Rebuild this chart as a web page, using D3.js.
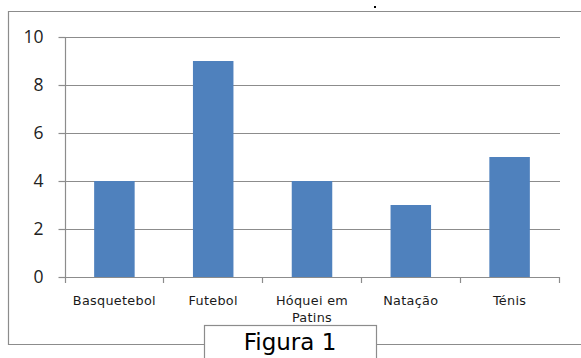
<!DOCTYPE html>
<html>
<head>
<meta charset="utf-8">
<script src="https://cdn.jsdelivr.net/npm/d3@7"></script>
<style>
  html, body { margin: 0; padding: 0; background: #fff; }
  svg { display: block; }
</style>
</head>
<body>
<svg id="chart" width="581" height="358"></svg>
<script>
// Number of students per sport
const categories = ["Basquetebol", "Futebol", "Hóquei em Patins", "Natação", "Ténis"];
const values = [4, 9, 4, 3, 5];
const yTicks = [0, 2, 4, 6, 8, 10];
const caption = "Figura 1";

const svg = d3.select("#chart");
const W = 581, H = 358;

// outer frame (open on the right, broken at the bottom by the caption box)
const frame = svg.append("g").attr("fill", "none").attr("stroke", "#8c8c8c").attr("stroke-width", 1.2);
frame.append("path").attr("d", `M${W},11.5 H8.5 V344.5 H204`);
frame.append("path").attr("d", `M377,344.5 H${W}`);

// small mark above the chart
svg.append("rect").attr("x", 374).attr("y", 6).attr("width", 2).attr("height", 2).attr("fill", "#000");

const plot = { left: 65, right: 559, top: 37, bottom: 277 };

const x = d3.scaleBand()
  .domain(categories)
  .range([plot.left, plot.right])
  .paddingInner(0.59)
  .paddingOuter(0.295);

const y = d3.scaleLinear().domain([0, 10]).range([plot.bottom, plot.top]);

// horizontal gridlines
svg.append("g")
  .selectAll("line")
  .data(yTicks.filter(d => d > 0))
  .join("line")
  .attr("x1", plot.left).attr("x2", plot.right + 1)
  .attr("y1", d => Math.round(y(d)) + 0.5).attr("y2", d => Math.round(y(d)) + 0.5)
  .attr("stroke", "#8c8c8c").attr("stroke-width", 1.2);

// bars
svg.append("g")
  .selectAll("rect")
  .data(categories.map((c, i) => ({ c, v: values[i] })))
  .join("rect")
  .attr("x", d => x(d.c))
  .attr("width", x.bandwidth())
  .attr("y", d => y(d.v))
  .attr("height", d => y(0) - y(d.v))
  .attr("fill", "#4f81bd");

// y axis
const yAxis = svg.append("g")
  .attr("transform", `translate(${plot.left + 0.5},0)`)
  .call(d3.axisLeft(y).tickValues(yTicks).tickSize(7).tickPadding(15).tickFormat(d3.format("d")));
yAxis.select(".domain").attr("stroke", "#8c8c8c").attr("stroke-width", 1.2).attr("d", `M0,${plot.top}V${plot.bottom + 0.5}`);
yAxis.selectAll(".tick line").attr("stroke", "#8c8c8c").attr("stroke-width", 1.2);
yAxis.selectAll(".tick").attr("transform", d => `translate(0,${Math.round(y(d)) + 0.5})`);
yAxis.selectAll("text")
  .attr("font-family", "'Open Sans', sans-serif")
  .attr("font-size", 17.5)
  .attr("fill", "#222");

// x axis: ticks at category boundaries
const bounds = d3.range(categories.length + 1).map(i => plot.left + i * x.step() - 0.5);
const xAxis = svg.append("g");
xAxis.append("line")
  .attr("x1", plot.left).attr("x2", plot.right + 1)
  .attr("y1", plot.bottom + 0.5).attr("y2", plot.bottom + 0.5)
  .attr("stroke", "#8c8c8c").attr("stroke-width", 1.2);
xAxis.selectAll("line.tk")
  .data(bounds)
  .join("line").attr("class", "tk")
  .attr("x1", d => Math.round(d) + 0.5).attr("x2", d => Math.round(d) + 0.5)
  .attr("y1", plot.bottom).attr("y2", plot.bottom + 6)
  .attr("stroke", "#8c8c8c").attr("stroke-width", 1.2);

// category labels (wrapped to the band width)
const labelLines = { "Hóquei em Patins": ["Hóquei em", "Patins"] };
const lbl = svg.append("g")
  .attr("font-family", "'DejaVu Sans', sans-serif")
  .attr("font-size", 12.8)
  .attr("letter-spacing", 0.3)
  .attr("fill", "#1a1a1a")
  .attr("text-anchor", "middle");
categories.forEach(c => {
  const lines = labelLines[c] || [c];
  const t = lbl.append("text")
    .attr("x", x(c) + x.bandwidth() / 2)
    .attr("y", 305);
  lines.forEach((s, i) => {
    t.append("tspan").attr("x", x(c) + x.bandwidth() / 2).attr("dy", i === 0 ? 0 : 17).text(s);
  });
});

// caption box
svg.append("rect")
  .attr("x", 204.5).attr("y", 325.5).attr("width", 172).attr("height", 40)
  .attr("fill", "#fff").attr("stroke", "#8c8c8c").attr("stroke-width", 1.2);
svg.append("text")
  .attr("x", 290).attr("y", 350)
  .attr("text-anchor", "middle")
  .attr("font-family", "'DejaVu Sans', sans-serif")
  .attr("font-size", 23)
  .attr("fill", "#000")
  .text(caption);
</script>
</body>
</html>
